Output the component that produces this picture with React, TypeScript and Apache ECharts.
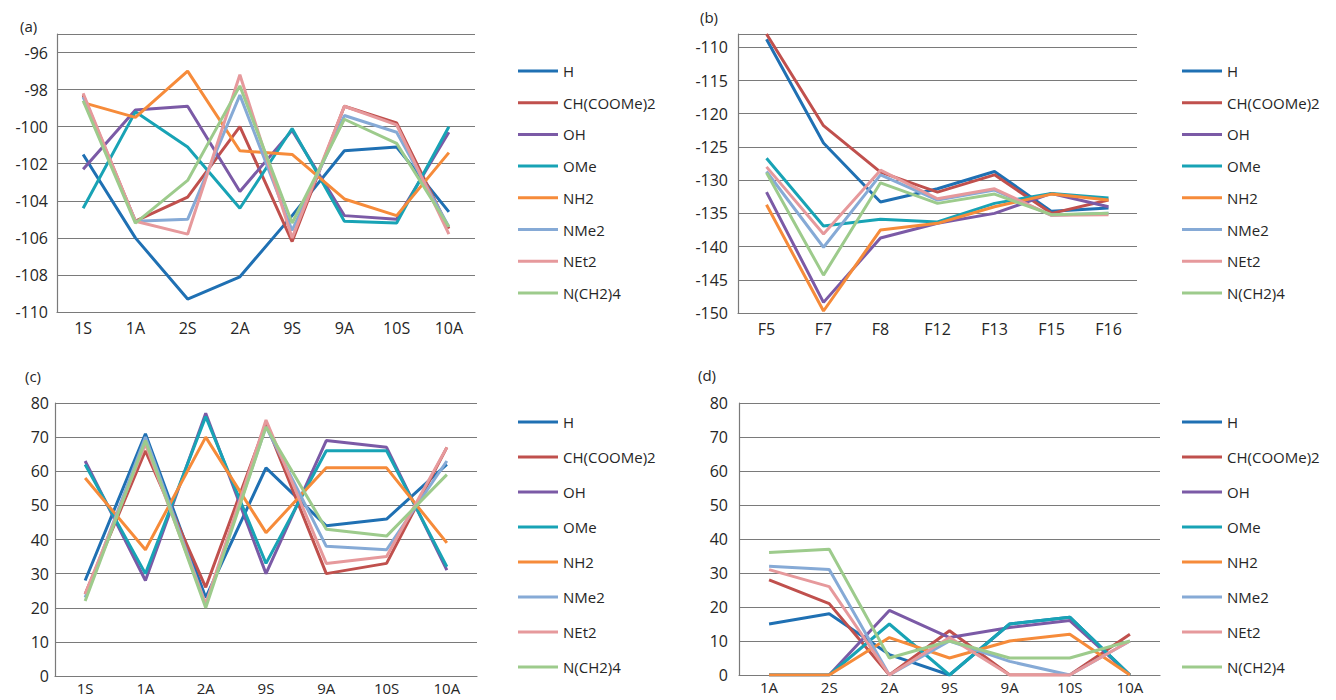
import React, { useEffect, useRef } from "react";
import * as echarts from "echarts";

const seriesNames = ["H", "CH(COOMe)2", "OH", "OMe", "NH2", "NMe2", "NEt2", "N(CH2)4"];
const seriesColors = ["#1f70b3", "#c0504d", "#7b5aa6", "#18a3b5", "#f68b3a", "#86aad6", "#e6999c", "#9dcb8c"];

// Panel (a)
const catsA = ["1S", "1A", "2S", "2A", "9S", "9A", "10S", "10A"];
const aH = [-101.5, -106.0, -109.3, -108.1, -104.8, -101.3, -101.1, -104.6];
const aCH = [-98.3, -105.1, -103.8, -100.0, -106.2, -98.9, -99.8, -105.5];
const aOH = [-102.3, -99.1, -98.9, -103.5, -100.2, -104.8, -105.0, -100.3];
const aOMe = [-104.4, -99.2, -101.1, -104.4, -100.1, -105.1, -105.2, -100.0];
const aNH2 = [-98.7, -99.5, -97.0, -101.3, -101.5, -103.9, -104.8, -101.4];
const aNMe2 = [-98.4, -105.1, -105.0, -98.3, -105.6, -99.4, -100.3, -105.4];
const aNEt2 = [-98.2, -105.1, -105.8, -97.2, -106.0, -98.9, -99.9, -105.8];
const aNCH = [-98.6, -105.2, -102.9, -97.8, -105.2, -99.6, -100.9, -105.4];

// Panel (b)
const catsB = ["F5", "F7", "F8", "F12", "F13", "F15", "F16"];
const bH = [-108.8, -124.4, -133.3, -131.3, -128.7, -134.7, -134.2];
const bCH = [-108.0, -121.8, -128.8, -131.8, -129.2, -135.0, -133.0];
const bOH = [-131.8, -148.4, -138.7, -136.5, -135.0, -132.0, -134.0];
const bOMe = [-126.7, -136.9, -135.9, -136.3, -133.5, -132.0, -132.7];
const bNH2 = [-133.7, -149.7, -137.5, -136.5, -134.0, -132.1, -133.0];
const bNMe2 = [-128.7, -140.1, -129.2, -133.0, -131.5, -135.3, -135.0];
const bNEt2 = [-128.0, -138.1, -128.5, -132.8, -131.3, -135.3, -135.2];
const bNCH = [-128.9, -144.3, -130.4, -133.5, -132.1, -135.2, -135.0];

// Panel (c)
const catsC = ["1S", "1A", "2A", "9S", "9A", "10S", "10A"];
const cH = [28, 71, 23, 61, 44, 46, 62];
const cCH = [24, 66, 26, 74, 30, 33, 67];
const cOH = [63, 28, 77, 30, 69, 67, 31];
const cOMe = [62, 30, 76, 33, 66, 66, 32];
const cNH2 = [58, 37, 70, 42, 61, 61, 39];
const cNMe2 = [23, 70, 21, 73, 38, 37, 63];
const cNEt2 = [24, 68, 21, 75, 33, 35, 67];
const cNCH = [22, 69, 20, 73, 43, 41, 59];

// Panel (d)
const catsD = ["1A", "2S", "2A", "9S", "9A", "10S", "10A"];
const dH = [15, 18, 6, 0, 15, 17, 0];
const dCH = [28, 21, 0, 13, 0, 0, 12];
const dOH = [0, 0, 19, 11, 14, 16, 0];
const dOMe = [0, 0, 15, 0, 15, 17, 0];
const dNH2 = [0, 0, 11, 5, 10, 12, 0];
const dNMe2 = [32, 31, 0, 10, 4, 0, 10];
const dNEt2 = [31, 26, 0, 11, 0, 0, 10];
const dNCH = [36, 37, 5, 10, 5, 5, 10];

const panelData = [
  [aH, aCH, aOH, aOMe, aNH2, aNMe2, aNEt2, aNCH],
  [bH, bCH, bOH, bOMe, bNH2, bNMe2, bNEt2, bNCH],
  [cH, cCH, cOH, cOMe, cNH2, cNMe2, cNEt2, cNCH],
  [dH, dCH, dOH, dOMe, dNH2, dNMe2, dNEt2, dNCH],
];
const panelCats = [catsA, catsB, catsC, catsD];
const panelTags = ["(a)", "(b)", "(c)", "(d)"];

const FONT = "Open Sans";
const TEXT = "#262626";
const GRIDLINE = "#7a7a7a";

export default function App() {
  const ref = useRef<HTMLDivElement>(null);

  useEffect(() => {
    document.body.style.margin = "0";
    if (!ref.current) return;
    const chart = echarts.init(ref.current, undefined, { renderer: "svg" });

    const grids = [
      { left: 57, top: 34, width: 418, height: 278 },
      { left: 738, top: 34, width: 399, height: 279 },
      { left: 55, top: 403, width: 422, height: 273 },
      { left: 739, top: 403, width: 421, height: 272 },
    ];
    const yAxes = [
      { min: -110, max: -95, interval: 2, hide: -95, margin: 9 },
      { min: -150, max: -108, interval: 5, hide: -108, margin: 10 },
      { min: 0, max: 80, interval: 10, hide: null, margin: 6 },
      { min: 0, max: 80, interval: 10, hide: null, margin: 11 },
    ];
    const xLabel = [
      { margin: 6, size: 16, lh: 20 },
      { margin: 6, size: 16, lh: 20 },
      { margin: 4, size: 15, lh: 16 },
      { margin: 4, size: 15, lh: 16 },
    ];
    const legendPos = [
      { left: 518, top: 63, gap: 15.7 },
      { left: 1182, top: 63, gap: 15.7 },
      { left: 518, top: 414, gap: 19 },
      { left: 1182, top: 414, gap: 19 },
    ];
    const tagPos = [
      { x: 20, y: 28 },
      { x: 700, y: 19 },
      { x: 25, y: 378 },
      { x: 698, y: 377 },
    ];

    const series: any[] = [];
    panelData.forEach((panel, p) => {
      panel.forEach((vals, i) => {
        series.push({
          type: "line",
          name: seriesNames[i],
          xAxisIndex: p,
          yAxisIndex: p,
          data: vals,
          symbol: "none",
          lineStyle: { color: seriesColors[i], width: 3 },
          itemStyle: { color: seriesColors[i] },
          z: 2 + i,
        });
      });
    });

    const option: any = {
      animation: false,
      backgroundColor: "#ffffff",
      grid: grids,
      xAxis: panelCats.map((cats, p) => ({
        type: "category",
        gridIndex: p,
        data: cats,
        boundaryGap: true,
        axisLine: { show: true, lineStyle: { color: GRIDLINE, width: 1.2 } },
        axisTick: { show: false },
        axisLabel: {
          fontSize: xLabel[p].size,
          lineHeight: xLabel[p].lh,
          color: TEXT,
          fontFamily: FONT,
          margin: xLabel[p].margin,
          interval: 0,
        },
        splitLine: { show: false },
      })),
      yAxis: yAxes.map((y, p) => ({
        type: "value",
        gridIndex: p,
        min: y.min,
        max: y.max,
        interval: y.interval,
        axisLine: { show: true, lineStyle: { color: GRIDLINE, width: 1.2 } },
        axisTick: { show: false },
        splitLine: { show: true, lineStyle: { color: GRIDLINE, width: 1.2 } },
        axisLabel: {
          fontSize: 16,
          color: TEXT,
          fontFamily: FONT,
          margin: y.margin,
          formatter: (v: number) => (y.hide !== null && Math.abs(v - y.hide) < 1e-6 ? "" : String(v)),
        },
      })),
      legend: legendPos.map((l) => ({
        data: seriesNames,
        orient: "vertical",
        left: l.left,
        top: l.top,
        padding: 0,
        itemGap: l.gap,
        itemWidth: 40,
        itemHeight: 3,
        icon: "rect",
        selectedMode: false,
        textStyle: { fontSize: 15, lineHeight: 16, color: TEXT, fontFamily: FONT },
      })),
      graphic: panelTags.map((t, p) => ({
        type: "text",
        left: tagPos[p].x,
        top: tagPos[p].y - 10,
        style: { text: t, fontSize: 15, fill: TEXT, fontFamily: FONT },
      })),
      series,
    };

    chart.setOption(option);
    return () => chart.dispose();
  }, []);

  return <div ref={ref} style={{ width: 1336, height: 700 }} />;
}
